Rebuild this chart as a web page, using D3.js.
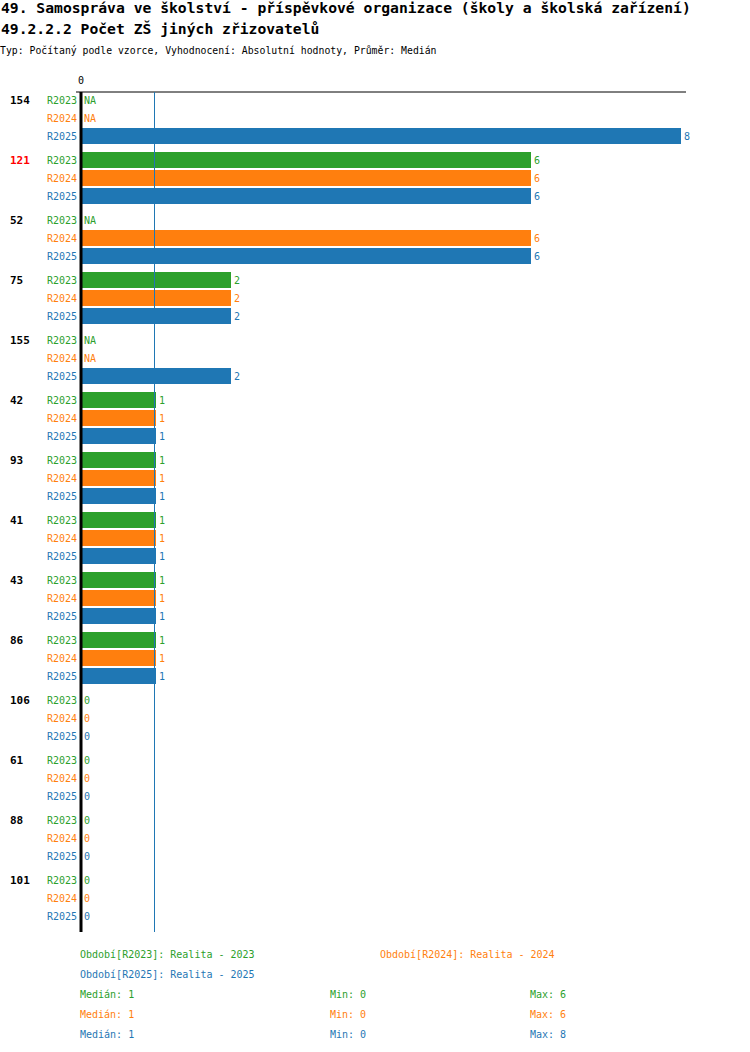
<!DOCTYPE html>
<html>
<head>
<meta charset="utf-8">
<script src="https://cdn.jsdelivr.net/npm/d3@7"></script>
<style>
  body { margin: 0; background: #fff; }
  text { font-family: 'DejaVu Sans Mono', 'Liberation Mono', monospace; }
</style>
</head>
<body>
<div id="chart"></div>
<script>
// data
let groups = ['154', '121', '52', '75', '155', '42', '93', '41', '43', '86', '106', '61', '88', '101']
let highlighted = '121'
let periods = ['R2023', 'R2024', 'R2025']
let r2023 = [null, 6, null, 2, null, 1, 1, 1, 1, 1, 0, 0, 0, 0]
let r2024 = [null, 6, 6, 2, null, 1, 1, 1, 1, 1, 0, 0, 0, 0]
let r2025 = [8, 6, 6, 2, 2, 1, 1, 1, 1, 1, 0, 0, 0, 0]
let periodNames = ['Období[R2023]: Realita - 2023', 'Období[R2024]: Realita - 2024', 'Období[R2025]: Realita - 2025']
let medians = [1, 1, 1]
let mins = [0, 0, 0]
let maxs = [6, 6, 8]
let median = 1

let colors = ['#2ca02c', '#ff7f0e', '#1f77b4']
let series = [r2023, r2024, r2025]

let width = 750
let height = 1052

let svg = d3
  .select('#chart')
  .append('svg')
  .attr('width', width)
  .attr('height', height)

// titles
svg.append('text')
  .attr('x', 1).attr('y', 13)
  .attr('font-size', '14.7px').attr('font-weight', 'bold')
  .text('49. Samospráva ve školství - příspěvkové organizace (školy a školská zařízení)')

svg.append('text')
  .attr('x', 1).attr('y', 34)
  .attr('font-size', '14.7px').attr('font-weight', 'bold')
  .text('49.2.2.2 Počet ZŠ jiných zřizovatelů')

svg.append('text')
  .attr('x', 0).attr('y', 54)
  .attr('font-size', '9.8px')
  .text('Typ: Počítaný podle vzorce, Vyhodnocení: Absolutní hodnoty, Průměr: Medián')

let x = d3.scaleLinear()
  .domain([0, 8])
  .range([81, 681])

// one band per group, a sub band per period
let y = d3.scaleBand()
  .domain(groups)
  .range([92, 92 + groups.length * 60])

let ySub = d3.scaleBand()
  .domain(periods)
  .range([0, 52])
  .paddingInner(2 / 18)

let plotTop = 92
let plotBottom = 932

// top rule and zero tick
svg.append('line')
  .attr('x1', 76).attr('x2', 686)
  .attr('y1', plotTop).attr('y2', plotTop)
  .attr('stroke', '#000').attr('stroke-width', 1)

svg.append('text')
  .attr('x', x(0)).attr('y', 84)
  .attr('text-anchor', 'middle')
  .attr('font-size', '10px')
  .text('0')

let g = svg.selectAll('.group')
  .data(groups)
  .enter()
  .append('g')
  .attr('class', 'group')
  .attr('transform', d => `translate(0,${y(d)})`)

g.append('text')
  .attr('x', 10)
  .attr('y', ySub('R2023') + ySub.bandwidth() / 2)
  .attr('dy', '0.35em')
  .attr('font-size', '11px')
  .attr('font-weight', 'bold')
  .attr('fill', d => d === highlighted ? '#ff0000' : '#000')
  .text(d => d)

periods.forEach((p, pi) => {
  let rows = g.append('g')

  rows.append('text')
    .attr('x', 77)
    .attr('y', ySub(p) + ySub.bandwidth() / 2)
    .attr('dy', '0.35em')
    .attr('text-anchor', 'end')
    .attr('font-size', '10px')
    .attr('fill', colors[pi])
    .text(p)

  rows.filter((d, i) => series[pi][i] !== null && series[pi][i] > 0)
    .append('rect')
    .attr('x', x(0))
    .attr('y', ySub(p))
    .attr('width', d => x(series[pi][groups.indexOf(d)]) - x(0))
    .attr('height', ySub.bandwidth())
    .attr('fill', colors[pi])

  rows.append('text')
    .attr('x', d => {
      let v = series[pi][groups.indexOf(d)]
      return (v === null ? x(0) : x(v)) + 3
    })
    .attr('y', ySub(p) + ySub.bandwidth() / 2)
    .attr('dy', '0.35em')
    .attr('font-size', '10px')
    .attr('fill', colors[pi])
    .text(d => {
      let v = series[pi][groups.indexOf(d)]
      return v === null ? 'NA' : v
    })
})

// median line
svg.append('line')
  .attr('x1', x(median) - 1.5).attr('x2', x(median) - 1.5)
  .attr('y1', plotTop).attr('y2', plotBottom)
  .attr('stroke', '#1f77b4').attr('stroke-width', 1)

// axis
svg.append('line')
  .attr('x1', x(0)).attr('x2', x(0))
  .attr('y1', plotTop).attr('y2', plotBottom)
  .attr('stroke', '#000').attr('stroke-width', 3)

// legend
let legendPos = [[80, 954], [380, 954], [80, 974]]
periodNames.forEach((name, i) => {
  svg.append('text')
    .attr('x', legendPos[i][0]).attr('y', legendPos[i][1])
    .attr('dy', '0.35em')
    .attr('font-size', '10px')
    .attr('fill', colors[i])
    .text(name)
})

periods.forEach((p, i) => {
  let yy = 994 + i * 20
  let stats = [[80, 'Medián: ' + medians[i]], [330, 'Min: ' + mins[i]], [530, 'Max: ' + maxs[i]]]
  stats.forEach(s => {
    svg.append('text')
      .attr('x', s[0]).attr('y', yy)
      .attr('dy', '0.35em')
      .attr('font-size', '10px')
      .attr('fill', colors[i])
      .text(s[1])
  })
})
</script>
</body>
</html>
